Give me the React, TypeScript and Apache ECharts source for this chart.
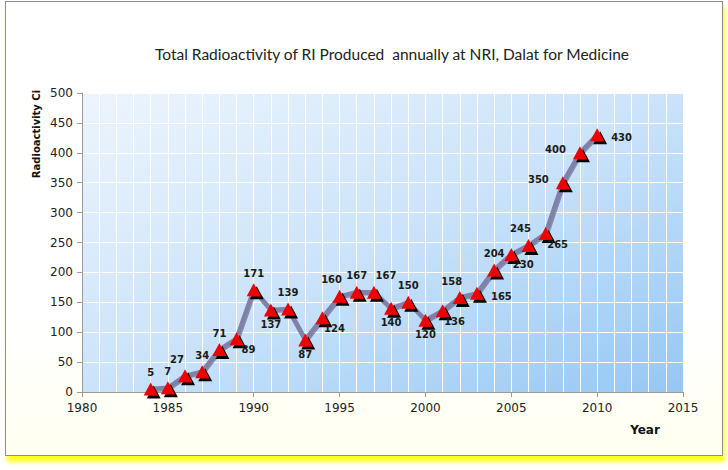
import React, { useEffect, useRef } from "react";
import * as echarts from "echarts";

const years = [1984, 1985, 1986, 1987, 1988, 1989, 1990, 1991, 1992, 1993, 1994, 1995, 1996, 1997, 1998, 1999, 2000, 2001, 2002, 2003, 2004, 2005, 2006, 2007, 2008, 2009, 2010];
const radioactivity = [5, 7, 27, 34, 71, 89, 171, 137, 139, 87, 124, 160, 167, 167, 140, 150, 120, 136, 158, 165, 204, 230, 245, 265, 350, 400, 430];
const labelPlacement = ["T", "T", "TL", "T", "T", "BR", "T", "B", "T", "B", "BR", "TL", "T", "TR", "B", "T", "B", "BR", "TL", "R", "T", "BR", "TL", "BR", "L", "L", "R"];

const titleText = "Total Radioactivity of RI Produced  annually at NRI, Dalat for Medicine";
const yAxisTitle = "Radioactivity Ci";
const xAxisTitle = "Year";

function placementStyle(p: string) {
  switch (p) {
    case "TL": return { position: "top", offset: [-8, 0] };
    case "TR": return { position: "top", offset: [12, 0] };
    case "B": return { position: "bottom", offset: [0, -2] };
    case "BR": return { position: "bottom", offset: [12, -6] };
    case "R": return { position: "right", offset: [2, 3] };
    case "L": return { position: "left", offset: [-2, -3] };
    default: return { position: "top", offset: [0, 0] };
  }
}

export default function App() {
  const ref = useRef<HTMLDivElement>(null);
  useEffect(() => {
    if (!ref.current) return;
    const chart = echarts.init(ref.current, undefined, { renderer: "svg" });
    const seriesData = years.map((y, i) => ({
      value: [y, radioactivity[i]],
      label: placementStyle(labelPlacement[i]),
    }));
    chart.setOption({
      animation: false,
      title: {
        text: titleText,
        left: 387,
        top: 41,
        textAlign: "center",
        textStyle: { fontFamily: "Lato", fontSize: 15.5, fontWeight: "normal", color: "#222" },
      },
      grid: {
        left: 82,
        right: 45,
        top: 93,
        bottom: 78,
        show: true,
        borderWidth: 0,
        backgroundColor: new echarts.graphic.LinearGradient(0, 0, 1, 1, [
          { offset: 0, color: "#edf5fd" },
          { offset: 0.5, color: "#cbe3fa" },
          { offset: 1, color: "#95c7f3" },
        ]),
      },
      xAxis: {
        type: "value",
        min: 1980,
        max: 2015,
        interval: 5,
        axisLine: { show: true, lineStyle: { color: "#9a9a9a", width: 1 } },
        axisTick: { show: true, length: 5, lineStyle: { color: "#9a9a9a" } },
        axisLabel: { color: "#222", fontFamily: "DejaVu Sans", fontSize: 12, margin: 10, formatter: (v: number) => String(v) },
        splitLine: { show: true, lineStyle: { color: "#ffffff", width: 1 } },
        minorTick: { show: false, splitNumber: 5 },
        minorSplitLine: { show: true, lineStyle: { color: "#ffffff", width: 1 } },
      },
      yAxis: {
        type: "value",
        min: 0,
        max: 500,
        interval: 50,
        axisLine: { show: true, lineStyle: { color: "#9a9a9a", width: 1 } },
        axisTick: { show: true, length: 5, lineStyle: { color: "#9a9a9a" } },
        axisLabel: { color: "#222", fontFamily: "DejaVu Sans", fontSize: 12, margin: 9 },
        splitLine: { show: true, lineStyle: { color: "#ffffff", width: 1 } },
      },
      graphic: [
        {
          type: "text",
          x: 36,
          y: 134,
          rotation: Math.PI / 2,
          style: {
            text: yAxisTitle,
            fontFamily: "DejaVu Sans",
            fontWeight: "bold",
            fontSize: 10,
            fill: "#111",
            align: "center",
            verticalAlign: "middle",
          },
        },
        {
          type: "text",
          x: 645,
          y: 430,
          style: {
            text: xAxisTitle,
            fontFamily: "DejaVu Sans",
            fontWeight: "bold",
            fontSize: 12,
            fill: "#111",
            align: "center",
            verticalAlign: "middle",
          },
        },
      ],
      series: [
        {
          type: "line",
          data: seriesData,
          symbol: "triangle",
          symbolSize: [14, 13],
          lineStyle: { color: "#8280a9", width: 4.5, shadowColor: "rgba(60,60,90,0.5)", shadowBlur: 1, shadowOffsetX: 1, shadowOffsetY: 1 },
          itemStyle: { color: "#ee0000", borderWidth: 0, shadowColor: "#000000", shadowBlur: 0, shadowOffsetX: 3, shadowOffsetY: 3 },
          label: {
            show: true,
            color: "#1a1a1a",
            fontFamily: "DejaVu Sans",
            fontWeight: "bold",
            fontSize: 10,
            distance: 5,
          },
          z: 3,
        },
      ],
    });
    return () => chart.dispose();
  }, []);

  return (
    <div style={{ position: "fixed", left: 0, top: 0, width: 728, height: 470, background: "#ffffff" }}>
      <div
        style={{
          position: "absolute",
          left: 5,
          top: 1,
          width: 716,
          height: 453,
          border: "1px solid #8c8c8c",
          background: "linear-gradient(#ffffff 70%, #fffff0 100%)",
          boxShadow: "2px 6px 4px #ffff20",
        }}
      />
      <div ref={ref} style={{ position: "absolute", left: 0, top: 0, width: 728, height: 470 }} />
    </div>
  );
}
